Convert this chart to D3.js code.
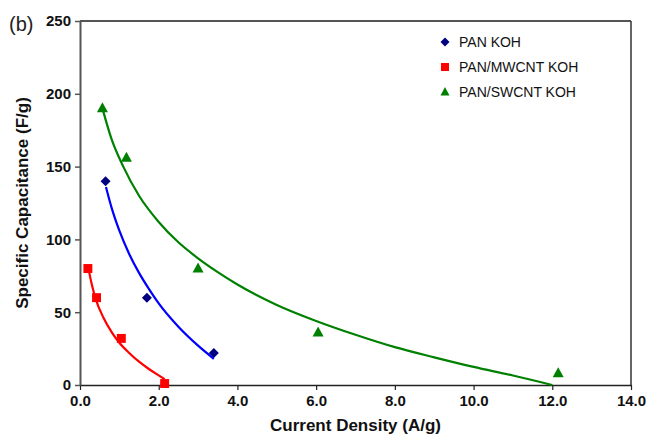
<!DOCTYPE html>
<html>
<head>
<meta charset="utf-8">
<script src="https://cdn.jsdelivr.net/npm/d3@7"></script>
<style>
  html, body { margin: 0; padding: 0; background: #fff; }
  svg { display: block; font-family: "Liberation Sans", Arial, sans-serif; }
</style>
</head>
<body>
<svg id="chart" width="649" height="438"></svg>
<script>
// ---- data ----
const xTicks = [0, 2, 4, 6, 8, 10, 12, 14];
const yTicks = [0, 50, 100, 150, 200, 250];

const panKohX = [0.65, 1.7, 3.4];
const panKohY = [140, 60, 22];

const mwcntX = [0.2, 0.42, 1.05, 2.15];
const mwcntY = [80, 60, 32, 1];

const swcntX = [0.57, 1.18, 3.0, 6.05, 12.15];
const swcntY = [190, 156, 80, 36, 8];

// trend curves
const panKohCurveX = [0.66, 0.8, 1.0, 1.25, 1.5, 1.75, 2.0, 2.5, 3.0, 3.4];
const panKohCurveY = [136, 122, 106, 90, 77, 66, 56, 40, 27, 18];

const mwcntCurveX = [0.2, 0.3, 0.4, 0.6, 0.8, 1.0, 1.25, 1.5, 1.75, 2.0, 2.15];
const mwcntCurveY = [82, 69, 59, 46, 36.5, 29, 22, 16, 11, 6.6, 4];

const swcntCurveX = [0.57, 0.8, 1.1, 1.5, 2, 2.5, 3, 3.5, 4, 5, 6, 7, 8, 9, 10, 11, 12];
const swcntCurveY = [190, 169, 150, 130, 112, 98, 87, 77.5, 69, 55, 44, 34.5, 26, 19, 12.4, 6.5, 0];

const seriesNames = ["PAN KOH", "PAN/MWCNT KOH", "PAN/SWCNT KOH"];
const xTitle = "Current Density (A/g)";
const yTitle = "Specific Capacitance (F/g)";
const panelLabel = "(b)";

// ---- drawing ----
const svg = d3.select("#chart");
const x = d3.scaleLinear().domain([0, 14]).range([80, 631]);
const y = d3.scaleLinear().domain([0, 250]).range([385, 21]);

// frame (top & right)
svg.append("line").attr("x1", 80).attr("x2", 631).attr("y1", y(250)).attr("y2", y(250))
  .attr("stroke", "#555").attr("stroke-width", 2);
svg.append("line").attr("x1", 631).attr("x2", 631).attr("y1", y(250)).attr("y2", y(0))
  .attr("stroke", "#333").attr("stroke-width", 1.5);

// axes
const xAxis = d3.axisBottom(x).tickValues(xTicks).tickFormat(d3.format(".1f")).tickSize(5).tickSizeOuter(0);
const yAxis = d3.axisLeft(y).tickValues(yTicks).tickFormat(d3.format("d")).tickSize(5).tickSizeOuter(0);

const gx = svg.append("g").attr("transform", `translate(0,${y(0)})`).call(xAxis);
gx.select(".domain").attr("stroke", "#222").attr("stroke-width", 1.5);
gx.selectAll(".tick line").attr("stroke", "#222").attr("stroke-width", 1.2);
gx.selectAll(".tick text").attr("font-size", 15).attr("font-weight", "bold")
  .attr("fill", "#111").attr("font-family", "Liberation Sans, Arial, sans-serif").attr("dy", "0.85em");

const gy = svg.append("g").attr("transform", `translate(80,0)`).call(yAxis);
gy.select(".domain").attr("stroke", "#555").attr("stroke-width", 2);
gy.selectAll(".tick line").attr("stroke", "#555").attr("stroke-width", 1.5);
gy.selectAll(".tick text").attr("font-size", 15).attr("font-weight", "bold")
  .attr("fill", "#111").attr("font-family", "Liberation Sans, Arial, sans-serif").attr("x", -9);

// titles
svg.append("text").attr("x", (x(0) + x(14)) / 2).attr("y", 431).attr("text-anchor", "middle")
  .attr("font-size", 17).attr("font-weight", "bold").attr("fill", "#111").text(xTitle);
svg.append("text").attr("transform", `translate(28,${(y(0) + y(250)) / 2}) rotate(-90)`)
  .attr("text-anchor", "middle").attr("font-size", 17).attr("font-weight", "bold")
  .attr("fill", "#111").text(yTitle);
svg.append("text").attr("x", 9).attr("y", 31).attr("font-size", 20).attr("fill", "#222").text(panelLabel);

// curves
const line = d3.line().x(d => x(d[0])).y(d => y(d[1])).curve(d3.curveMonotoneX);
function drawCurve(xs, ys, color) {
  svg.append("path").datum(xs.map((v, i) => [v, ys[i]]))
    .attr("d", line).attr("fill", "none").attr("stroke", color).attr("stroke-width", 2.2);
}
drawCurve(swcntCurveX, swcntCurveY, "#008000");
drawCurve(panKohCurveX, panKohCurveY, "#0000ff");
drawCurve(mwcntCurveX, mwcntCurveY, "#ff0000");

// markers
const diamond = "M0,-5L5,0L0,5L-5,0Z";
const square = d3.symbol().type(d3.symbolSquare).size(80)();
const triangle = "M0,-6L5.5,4L-5.5,4Z";

function drawPoints(xs, ys, sym, color) {
  svg.append("g").selectAll("path").data(xs.map((v, i) => [v, ys[i]])).join("path")
    .attr("transform", d => `translate(${x(d[0])},${y(d[1])})`)
    .attr("d", sym).attr("fill", color);
}
drawPoints(panKohX, panKohY, diamond, "#000080");
drawPoints(mwcntX, mwcntY, square, "#ff0000");
drawPoints(swcntX, swcntY, triangle, "#008000");

// legend
const legend = svg.append("g");
const legendSyms = ["M0,-4.5L4.5,0L0,4.5L-4.5,0Z", d3.symbol().type(d3.symbolSquare).size(64)(), "M0,-5L4.5,3.5L-4.5,3.5Z"];
const legendCols = ["#000080", "#ff0000", "#008000"];
seriesNames.forEach((name, i) => {
  const ly = 42 + i * 25;
  legend.append("path").attr("transform", `translate(445,${ly})`)
    .attr("d", legendSyms[i]).attr("fill", legendCols[i]);
  legend.append("text").attr("x", 459).attr("y", ly + 5).attr("font-size", 14)
    .attr("fill", "#111").text(name);
});
</script>
</body>
</html>
